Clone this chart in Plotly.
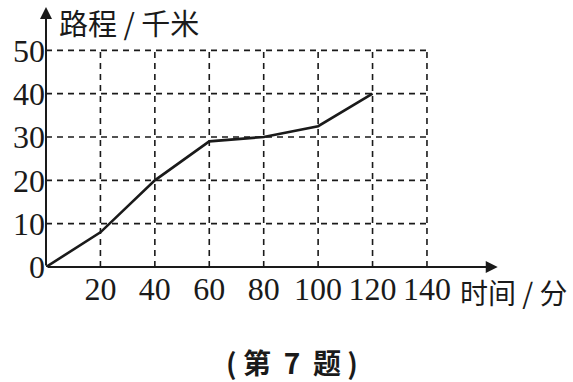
import plotly.graph_objects as go

# data
time_min = [0, 20, 40, 60, 80, 100, 120]
distance_km = [0, 8, 20, 29, 30, 32.5, 40]
x_ticks = [20, 40, 60, 80, 100, 120, 140]
y_ticks = [0, 10, 20, 30, 40, 50]

serif = "Liberation Serif, Times New Roman, serif"
cjk = "Noto Sans CJK SC, sans-serif"
ink = "#1a1a1a"
nb = "\u00a0"

fig = go.Figure()
fig.add_trace(go.Scatter(x=time_min, y=distance_km, mode="lines",
                         line=dict(color=ink, width=2.6), hoverinfo="skip"))

shapes = []
for yv in y_ticks[1:]:
    shapes.append(dict(type="line", x0=0, x1=max(x_ticks), y0=yv, y1=yv, xref="x", yref="y",
                       line=dict(color=ink, width=1.6, dash="6px,5px"), layer="below"))
for xv in x_ticks:
    shapes.append(dict(type="line", x0=xv, x1=xv, y0=0, y1=max(y_ticks), xref="x", yref="y",
                       line=dict(color=ink, width=1.6, dash="6px,5px"), layer="below"))

annotations = [
    # x axis arrow
    dict(x=166, y=0, ax=0, ay=0, xref="x", yref="y", axref="x", ayref="y", text="",
         showarrow=True, arrowhead=2, arrowsize=1.2, arrowwidth=2, arrowcolor=ink),
    # y axis arrow
    dict(x=0, y=60, ax=0, ay=0, xref="x", yref="y", axref="x", ayref="y", text="",
         showarrow=True, arrowhead=2, arrowsize=1.2, arrowwidth=2, arrowcolor=ink),
    dict(x=0.0245, y=0.942, xref="paper", yref="paper", text="路程 / 千米", showarrow=False,
         xanchor="left", yanchor="middle", font=dict(family=cjk, size=29, color=ink)),
    dict(x=0.9176, y=-0.095, xref="paper", yref="paper", text="时间 / 分", showarrow=False,
         xanchor="left", yanchor="middle", font=dict(family=cjk, size=28, color=ink)),
    dict(x=0.548, y=-0.365, xref="paper", yref="paper",
         text="<b>(" + nb + "第" + nb + nb + "7" + nb + nb + "题" + nb + ")</b>", showarrow=False,
         xanchor="center", yanchor="middle", font=dict(family=cjk, size=28, color=ink)),
]

fig.update_layout(
    width=573, height=382,
    margin=dict(l=46, r=78, t=7, b=115),
    paper_bgcolor="white", plot_bgcolor="white",
    showlegend=False,
    shapes=shapes,
    annotations=annotations,
    xaxis=dict(range=[0, 165], tickvals=x_ticks, ticktext=[str(v) for v in x_ticks],
               showgrid=False, zeroline=False, showline=False, ticks="",
               tickfont=dict(family=serif, size=32, color=ink), fixedrange=True),
    yaxis=dict(range=[0, 60], tickvals=y_ticks, ticktext=[str(v) for v in y_ticks],
               showgrid=False, zeroline=False, showline=False, ticks="",
               tickfont=dict(family=serif, size=32, color=ink), fixedrange=True),
)

fig.write_html("out.html")
